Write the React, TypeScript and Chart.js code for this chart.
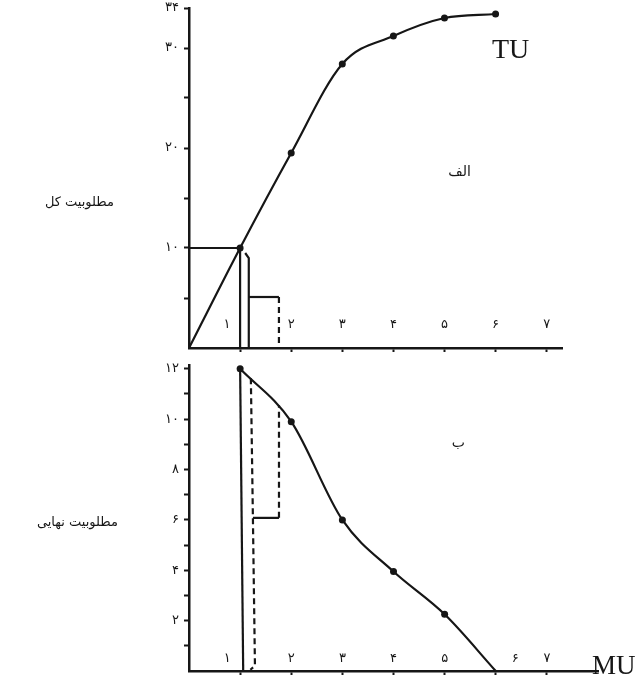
import React, { useEffect, useRef } from "react";
import { Chart, registerables } from "chart.js";

Chart.register(...registerables);

// ---------- data ----------
const FA_DIGITS = ["۰", "۱", "۲", "۳", "۴", "۵", "۶", "۷", "۸", "۹"];
const toFa = (n: number | string) => String(n).replace(/\d/g, (d) => FA_DIGITS[+d]);

// panel الف : total utility
const tuQuantities = [0, 1, 2, 3, 4, 5, 6];
const totalUtility = [0, 10, 19.5, 28.4, 31.2, 33, 33.4];
const tuPointShown = [false, true, true, true, true, true, true];

// panel ب : marginal utility
const muQuantities = [1, 2, 3, 4, 5, 6];
const marginalUtility = [12, 9.9, 6.0, 3.95, 2.25, 0];
const muPointShown = [true, true, true, true, true, false];

// tick values
const xTickValues = [1, 2, 3, 4, 5, 6, 7];
const tuTickValues = [5, 10, 15, 20, 25, 30, 34];
const tuLabelledTicks = [10, 20, 30, 34];
const muTickValues = [1, 2, 3, 4, 5, 6, 7, 8, 9, 10, 11, 12];
const muLabelledTicks = [2, 4, 6, 8, 10, 12];

// guide lines, [quantity, utility]
const tuLevelLine = [[0, 10], [1, 10]];
const tuDropLine = [[1, 10], [1, 0]];
const tuBraceLine = [[1.1, 9.5], [1.17, 9.0], [1.17, 0]];
const tuStepLine = [[1.17, 5.1], [1.76, 5.1]];
const tuStepDashed = [[1.76, 5.1], [1.76, 0]];

const muDropLine = [[1, 12], [1.06, 0]];
const muLeftDashed = [[1.21, 11.62], [1.25, 6.08], [1.29, 0.2], [1.2, 0.05]];
const muStepLine = [[1.25, 6.08], [1.76, 6.08]];
const muRightDashed = [[1.76, 6.08], [1.76, 10.55]];

// ---------- styling ----------
const INK = "#161616";
const FA_FONT = "DejaVu Sans";
const EM = "\u2003";

// label text for each x tick; "1" sits left of its drop line, "6" right of the MU curve
const topXLabel = (v: number) => (v === 1 ? toFa(v) + EM + EM : toFa(v));
const bottomXLabel = (v: number) =>
  v === 1 ? toFa(v) + EM + EM : v === 6 ? EM + EM + EM + toFa(v) : toFa(v);

const pts = (arr: number[][]) => arr.map(([x, y]) => ({ x, y }));

const guide = (arr: number[][], dashed = false) => ({
  data: pts(arr),
  borderColor: INK,
  borderWidth: 2.2,
  borderDash: dashed ? [6, 4] : [],
  pointRadius: 0,
  tension: 0,
  fill: false,
});

type Label = { text: string; x: number; y: number; font: string; align: CanvasTextAlign; baseline: CanvasTextBaseline };

const labelPlugin = (labels: Label[]) => ({
  id: "freeLabels",
  afterDraw(chart: any) {
    const ctx = chart.ctx as CanvasRenderingContext2D;
    ctx.save();
    ctx.fillStyle = INK;
    labels.forEach((l) => {
      ctx.font = l.font;
      ctx.textAlign = l.align;
      ctx.textBaseline = l.baseline;
      ctx.fillText(l.text, l.x, l.y);
    });
    ctx.restore();
  },
});

const topLabels: Label[] = [
  { text: "TU", x: 492, y: 58, font: "28px 'Liberation Serif'", align: "left", baseline: "alphabetic" },
  { text: "الف", x: 471, y: 172, font: `14px '${FA_FONT}'`, align: "right", baseline: "middle" },
  { text: "مطلوبیت کل", x: 114, y: 203, font: `13px '${FA_FONT}'`, align: "right", baseline: "middle" },
];
const bottomLabels: Label[] = [
  { text: "MU", x: 592, y: 319, font: "27px 'Liberation Serif'", align: "left", baseline: "alphabetic" },
  { text: "ب", x: 465, y: 88, font: `14px '${FA_FONT}'`, align: "right", baseline: "middle" },
  { text: "مطلوبیت نهایی", x: 118, y: 168, font: `13px '${FA_FONT}'`, align: "right", baseline: "middle" },
];

function xScale(max: number, axisHeight: number, labelPad: number, fmt: (v: number) => string) {
  return {
    type: "linear",
    min: 0,
    max,
    afterBuildTicks: (s: any) => {
      s.ticks = xTickValues.map((v) => ({ value: v }));
    },
    afterFit: (s: any) => {
      s.height = axisHeight;
      s.paddingLeft = 0;
      s.paddingRight = 0;
    },
    grid: { drawOnChartArea: false, tickLength: 4, tickWidth: 2, color: INK },
    border: { color: INK, width: 2.5 },
    ticks: {
      mirror: true,
      padding: labelPad,
      autoSkip: false,
      maxRotation: 0,
      color: INK,
      font: { family: FA_FONT, size: 13 },
      callback: (v: number) => fmt(v),
    },
  };
}

function yScale(max: number, ticks: number[], labelled: number[]) {
  return {
    type: "linear",
    min: 0,
    max,
    afterBuildTicks: (s: any) => {
      s.ticks = ticks.map((v) => ({ value: v }));
    },
    afterFit: (s: any) => {
      s.width = 189;
      s.paddingTop = 0;
      s.paddingBottom = 0;
    },
    grid: { drawOnChartArea: false, tickLength: 5, tickWidth: 2, color: INK },
    border: { color: INK, width: 2.5 },
    ticks: {
      padding: 5,
      autoSkip: false,
      color: INK,
      font: { family: FA_FONT, size: 13 },
      callback: (v: number) => (labelled.includes(v) ? toFa(v) : ""),
    },
  };
}

function makeTop(canvas: HTMLCanvasElement) {
  return new Chart(canvas, {
    type: "line",
    data: {
      datasets: [
        {
          data: tuQuantities.map((q, i) => ({ x: q, y: totalUtility[i] })),
          borderColor: INK,
          borderWidth: 2.2,
          cubicInterpolationMode: "monotone",
          pointRadius: tuPointShown.map((s) => (s ? 3.5 : 0)),
          pointBackgroundColor: INK,
          pointBorderWidth: 0,
          fill: false,
        },
        guide(tuLevelLine),
        guide(tuDropLine),
        guide(tuBraceLine),
        guide(tuStepLine),
        guide(tuStepDashed, true),
      ] as any,
    },
    options: {
      animation: false,
      responsive: false,
      maintainAspectRatio: false,
      layout: { padding: { top: 8, right: 75, left: 0, bottom: 0 } },
      plugins: { legend: { display: false }, tooltip: { enabled: false } },
      scales: {
        x: xScale(7.3, 12, 16, topXLabel) as any,
        y: yScale(34, tuTickValues, tuLabelledTicks) as any,
      },
    },
    plugins: [labelPlugin(topLabels)],
  });
}

function makeBottom(canvas: HTMLCanvasElement) {
  return new Chart(canvas, {
    type: "line",
    data: {
      datasets: [
        {
          data: muQuantities.map((q, i) => ({ x: q, y: marginalUtility[i] })),
          borderColor: INK,
          borderWidth: 2.2,
          cubicInterpolationMode: "monotone",
          pointRadius: muPointShown.map((s) => (s ? 3.5 : 0)),
          pointBackgroundColor: INK,
          pointBorderWidth: 0,
          fill: false,
        },
        guide(muDropLine),
        guide(muLeftDashed, true),
        guide(muStepLine),
        guide(muRightDashed, true),
      ] as any,
    },
    options: {
      animation: false,
      responsive: false,
      maintainAspectRatio: false,
      layout: { padding: { top: 10, right: 39, left: 0, bottom: 0 } },
      plugins: { legend: { display: false }, tooltip: { enabled: false } },
      scales: {
        x: xScale(8.0, 2, 5, bottomXLabel) as any,
        y: yScale(12.15, muTickValues, muLabelledTicks) as any,
      },
    },
    plugins: [labelPlugin(bottomLabels)],
  });
}

export default function App() {
  const topRef = useRef<HTMLCanvasElement>(null);
  const bottomRef = useRef<HTMLCanvasElement>(null);

  useEffect(() => {
    const a = makeTop(topRef.current!);
    const b = makeBottom(bottomRef.current!);
    return () => {
      a.destroy();
      b.destroy();
    };
  }, []);

  return (
    <div style={{ position: "absolute", left: 0, top: 0, width: 637, height: 675, background: "#fff" }}>
      <canvas ref={topRef} width={637} height={360} style={{ position: "absolute", left: 0, top: 0, display: "block" }} />
      <canvas ref={bottomRef} width={637} height={320} style={{ position: "absolute", left: 0, top: 355, display: "block" }} />
    </div>
  );
}
